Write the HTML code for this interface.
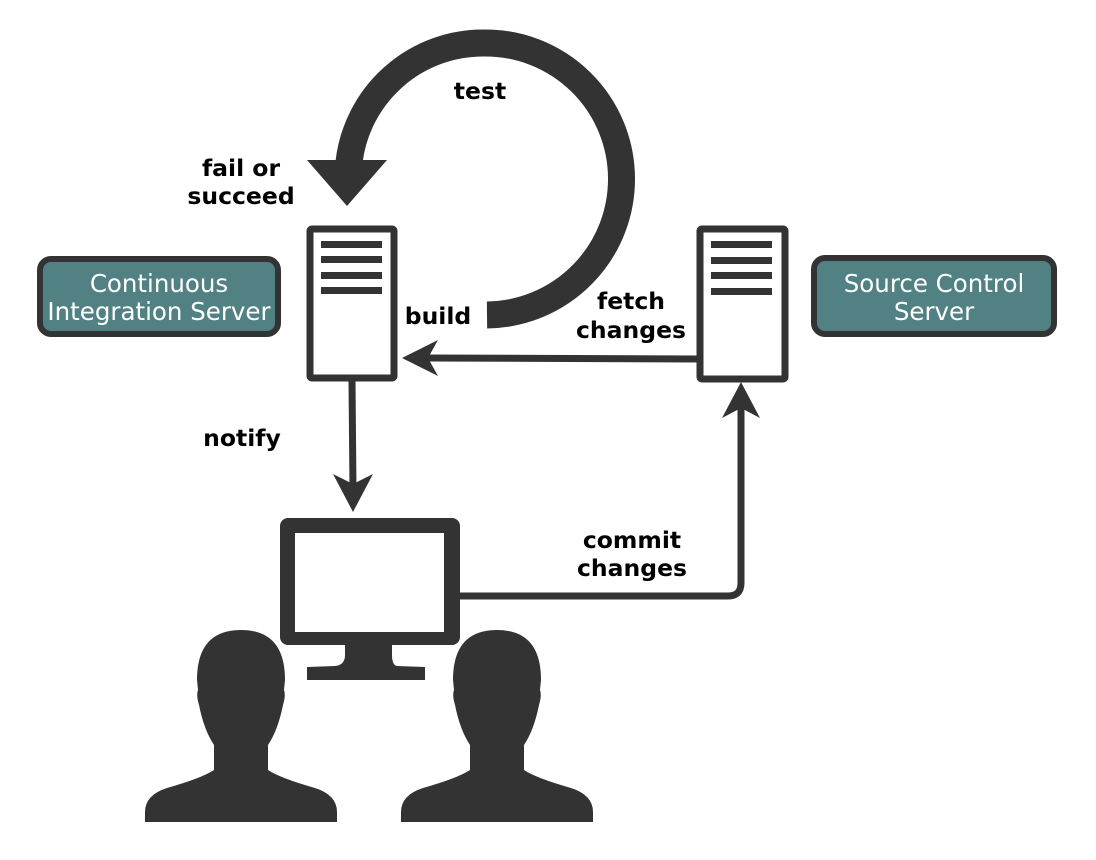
<!DOCTYPE html>
<html><head><meta charset="utf-8"><style>
html,body{margin:0;padding:0;background:#fff;}
svg{display:block;}
.b{font-family:"DejaVu Sans","Liberation Sans",sans-serif;font-weight:bold;font-size:23.5px;fill:#000;text-anchor:middle;}
.w{font-family:"DejaVu Sans","Liberation Sans",sans-serif;font-size:24.5px;fill:#fff;text-anchor:middle;}
</style></head><body>
<svg width="1096" height="860" viewBox="0 0 1096 860" xmlns="http://www.w3.org/2000/svg">
<path d="M487 315 A135 135 0 0 0 484 43 A135 135 0 0 0 349 162" fill="none" stroke="#333" stroke-width="27"/>
<polygon points="307,160 387,160 347,206" fill="#333"/>
<rect x="310" y="229" width="84" height="149" rx="2" fill="#fff" stroke="#333" stroke-width="7"/>
<rect x="321" y="241" width="61" height="7" fill="#333"/>
<rect x="321" y="256" width="61" height="7" fill="#333"/>
<rect x="321" y="272" width="61" height="7" fill="#333"/>
<rect x="321" y="287" width="61" height="7" fill="#333"/>
<rect x="700" y="229" width="85" height="150" rx="2" fill="#fff" stroke="#333" stroke-width="7"/>
<rect x="711" y="241" width="61" height="7" fill="#333"/>
<rect x="711" y="257" width="61" height="7" fill="#333"/>
<rect x="711" y="272" width="61" height="7" fill="#333"/>
<rect x="711" y="288" width="61" height="7" fill="#333"/>
<line x1="697" y1="359" x2="425" y2="358" stroke="#333" stroke-width="7"/>
<polygon points="402,358 438,340 428,358 438,376" fill="#333"/>
<line x1="352" y1="381" x2="353" y2="490" stroke="#333" stroke-width="7"/>
<polygon points="353,512 333,474 353,484 373,474" fill="#333"/>
<path d="M460 596 L728 596 Q741 596 741 583 L741 405" fill="none" stroke="#333" stroke-width="7"/>
<polygon points="741,382 722,418 741,408 760,418" fill="#333"/>
<rect x="280" y="518" width="180" height="127" rx="8" fill="#333"/>
<rect x="295" y="533" width="149" height="99" fill="#fff"/>
<path d="M345 645 L345 655 Q345 665 335 666 L307 667 L307 680 L425 680 L425 667 L397 666 Q392 665 392 655 L392 645 Z" fill="#333"/>
<g fill="#333">
<path d="M197 680 Q197 630 241 630 Q285 630 285 680 L284 690 Q286 695 283 705 Q278 730 268 745 L268 770 Q280 778 315 788 Q337 795 337 812 L337 822 L145 822 L145 812 Q145 795 167 788 Q202 778 214 770 L214 745 Q204 730 199 705 Q196 695 198 690 Z"/>
<path d="M453 680 Q453 630 497 630 Q541 630 541 680 L540 690 Q542 695 539 705 Q534 730 524 745 L524 770 Q536 778 571 788 Q593 795 593 812 L593 822 L401 822 L401 812 Q401 795 423 788 Q458 778 470 770 L470 745 Q460 730 455 705 Q452 695 454 690 Z"/>
</g>
<rect x="40" y="259" width="238" height="75" rx="11" fill="#528184" stroke="#333" stroke-width="6"/>
<text class="w" x="159" y="292">Continuous</text>
<text class="w" x="159" y="320">Integration Server</text>
<rect x="814" y="258" width="240" height="76" rx="11" fill="#528184" stroke="#333" stroke-width="6"/>
<text class="w" x="934" y="292">Source Control</text>
<text class="w" x="934" y="320">Server</text>
<text class="b" x="480" y="99">test</text>
<text class="b" x="241" y="176">fail or</text>
<text class="b" x="241" y="204">succeed</text>
<text class="b" x="438" y="324">build</text>
<text class="b" x="631" y="309">fetch</text>
<text class="b" x="631" y="338">changes</text>
<text class="b" x="242" y="446">notify</text>
<text class="b" x="632" y="548">commit</text>
<text class="b" x="632" y="576">changes</text>
</svg>
</body></html>
